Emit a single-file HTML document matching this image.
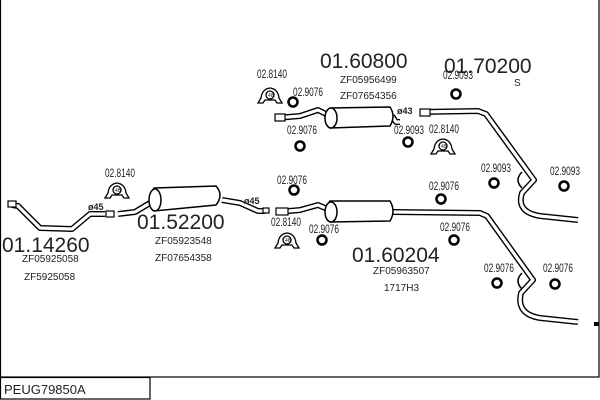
<!DOCTYPE html>
<html><head><meta charset="utf-8"><style>
html,body{margin:0;padding:0;background:#fff;}
svg{display:block;}
text{font-family:"Liberation Sans",sans-serif;fill:#222;}
.big{font-size:21px;}
.sm{font-size:10px;}
</style></head><body>
<svg width="600" height="400" viewBox="0 0 600 400" xmlns="http://www.w3.org/2000/svg">
<defs>
<g id="ring"><circle r="4.5" fill="none" stroke="#000" stroke-width="2.5"/></g>
<g id="clamp">
<path d="M-12,6 L-9,1 Q-8,-8 0,-9 Q8,-8 9,1 L12,6 L7,6 L5,3 L-5,3 L-7,6 Z" fill="#fff" stroke="#000" stroke-width="1.3"/>
<circle cx="0" cy="-2" r="4" fill="#fff" stroke="#000" stroke-width="1.3"/>
<text x="-2" y="0" style="font-size:5px">48</text>
</g>
</defs>
<rect x="0.5" y="-1" width="598.5" height="378" fill="none" stroke="#000" stroke-width="1.2"/>
<rect x="0.5" y="377.5" width="149.5" height="21.5" fill="#fff" stroke="#000" stroke-width="1.2"/>
<text x="4" y="394" style="font-size:13px">PEUG79850A</text>

<g fill="none" stroke-linejoin="round" stroke-linecap="butt">
<g stroke="#000" stroke-width="6">
<path d="M12,205 L18,206 L40,228 L72,229 L90,214 L105,214"/>
<path d="M118,214 L135,212 L150,203"/>
<path d="M222,200 L240,203 L258,211 L265,211"/>
<path d="M276,118 L300,116 L318,110 L326,114"/>
<path d="M392,116 L396,122 L400,122"/>
<path d="M420,112 L478,111 L486,114 L534,180 L522,193 Q516,212 540,216 L578,220"/>
<path d="M278,212 L300,210 L318,205 L330,210"/>
<path d="M393,212 L480,213 L487,216 L533,280 L521,293 Q516,314 540,318 L578,322"/>
</g>
<g stroke="#fff" stroke-width="3.2">
<path d="M12,205 L18,206 L40,228 L72,229 L90,214 L105,214"/>
<path d="M118,214 L135,212 L150,203"/>
<path d="M222,200 L240,203 L258,211 L265,211"/>
<path d="M276,118 L300,116 L318,110 L326,114"/>
<path d="M392,116 L396,122 L400,122"/>
<path d="M420,112 L478,111 L486,114 L534,180 L522,193 Q516,212 540,216 L578,220"/>
<path d="M278,212 L300,210 L318,205 L330,210"/>
<path d="M393,212 L480,213 L487,216 L533,280 L521,293 Q516,314 540,318 L578,322"/>
</g>
</g>
<g fill="#fff" stroke="#000" stroke-width="1.5">
<path d="M154,188 L216,186 Q224,195 216,205 L154,211 Q146,200 154,188 Z"/>
<ellipse cx="155" cy="200" rx="6" ry="11"/>
<path d="M330,108 L390,107 Q396,116 390,126 L330,128 Q322,118 330,108 Z"/>
<ellipse cx="331" cy="118" rx="6" ry="10"/>
<path d="M330,201 L390,201 Q396,211 390,221 L330,222 Q322,212 330,201 Z"/>
<ellipse cx="331" cy="212" rx="6" ry="10"/>
</g>
<g fill="#fff" stroke="#000" stroke-width="1.2">
<rect x="8" y="201" width="8" height="6"/>
<rect x="106" y="211" width="8" height="6"/>
<rect x="263" y="208" width="6" height="5"/>
<rect x="275" y="114" width="10" height="7"/>
<rect x="420" y="109" width="10" height="7"/>
<rect x="276" y="208" width="12" height="7"/>
</g>
<rect x="594" y="322" width="5" height="4" fill="#000"/>
<use href="#clamp" x="117" y="192"/>
<use href="#clamp" x="270" y="97"/>
<use href="#clamp" x="443" y="148"/>
<use href="#clamp" x="287" y="242"/>
<use href="#ring" x="293" y="102"/>
<use href="#ring" x="300" y="146"/>
<use href="#ring" x="408" y="142"/>
<use href="#ring" x="456" y="94"/>
<use href="#ring" x="294" y="190"/>
<use href="#ring" x="322" y="240"/>
<use href="#ring" x="441" y="199"/>
<use href="#ring" x="454" y="240"/>
<use href="#ring" x="494" y="183"/>
<use href="#ring" x="564" y="186"/>
<use href="#ring" x="497" y="283"/>
<use href="#ring" x="555" y="284"/>
<path d="M522,172 Q514,180 522,188" fill="none" stroke="#000" stroke-width="1.5"/>
<path d="M522,273 Q514,281 522,289" fill="none" stroke="#000" stroke-width="1.5"/>

<text class="big" x="2" y="252">01.14260</text>
<text class="sm" x="22" y="262">ZF05925058</text>
<text class="sm" x="24" y="280">ZF5925058</text>
<text class="big" x="137" y="229">01.52200</text>
<text class="sm" x="155" y="244">ZF05923548</text>
<text class="sm" x="155" y="261">ZF07654358</text>
<text class="big" x="320" y="68">01.60800</text>
<text class="sm" x="340" y="83">ZF05956499</text>
<text class="sm" x="340" y="99">ZF07654356</text>
<text class="big" x="444" y="73">01.70200</text>
<text class="sm" x="514" y="86">S</text>
<text class="big" x="352" y="262">01.60204</text>
<text class="sm" x="373" y="274">ZF05963507</text>
<text class="sm" x="384" y="291">1717H3</text>
<g style="font-size:12px">
<text x="105" y="177" textLength="30" lengthAdjust="spacingAndGlyphs">02.8140</text>
<text x="257" y="78" textLength="30" lengthAdjust="spacingAndGlyphs">02.8140</text>
<text x="293" y="96" textLength="30" lengthAdjust="spacingAndGlyphs">02.9076</text>
<text x="287" y="134" textLength="30" lengthAdjust="spacingAndGlyphs">02.9076</text>
<text x="394" y="134" textLength="30" lengthAdjust="spacingAndGlyphs">02.9093</text>
<text x="429" y="133" textLength="30" lengthAdjust="spacingAndGlyphs">02.8140</text>
<text x="443" y="79" textLength="30" lengthAdjust="spacingAndGlyphs">02.9093</text>
<text x="277" y="184" textLength="30" lengthAdjust="spacingAndGlyphs">02.9076</text>
<text x="271" y="226" textLength="30" lengthAdjust="spacingAndGlyphs">02.8140</text>
<text x="309" y="233" textLength="30" lengthAdjust="spacingAndGlyphs">02.9076</text>
<text x="429" y="190" textLength="30" lengthAdjust="spacingAndGlyphs">02.9076</text>
<text x="440" y="231" textLength="30" lengthAdjust="spacingAndGlyphs">02.9076</text>
<text x="481" y="172" textLength="30" lengthAdjust="spacingAndGlyphs">02.9093</text>
<text x="550" y="175" textLength="30" lengthAdjust="spacingAndGlyphs">02.9093</text>
<text x="484" y="272" textLength="30" lengthAdjust="spacingAndGlyphs">02.9076</text>
<text x="543" y="272" textLength="30" lengthAdjust="spacingAndGlyphs">02.9076</text>
</g>
<text x="88" y="210" style="font-size:9px;font-weight:bold">ø45</text>
<text x="244" y="204" style="font-size:9px;font-weight:bold">ø45</text>
<text x="397" y="114" style="font-size:9px;font-weight:bold">ø43</text>
</svg>
</body></html>
